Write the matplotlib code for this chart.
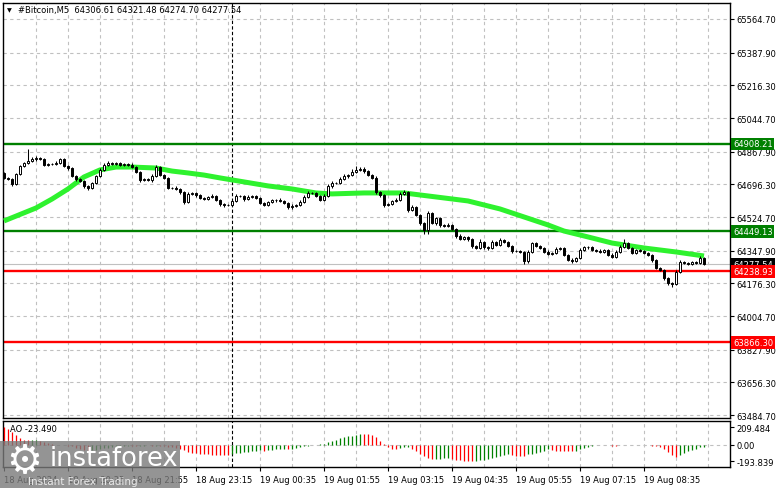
import numpy as np
import matplotlib.pyplot as plt
from matplotlib.patches import Rectangle

W, H = 781, 489

# BTC M5 bars, 18 Aug 2024 19:15 -> 19 Aug 09:50
closes = [
    64730, 64724, 64698, 64750, 64793, 64808, 64819, 64829, 64835, 64829,
    64798, 64803, 64803, 64808, 64829, 64793, 64782, 64740, 64724, 64714,
    64687, 64677, 64703, 64740, 64772, 64798, 64808, 64803, 64808, 64798,
    64803, 64798, 64787, 64761, 64719, 64724, 64719, 64740, 64787, 64745,
    64730, 64677, 64677, 64672, 64656, 64604, 64646, 64651, 64640, 64625,
    64619, 64630, 64635, 64614, 64593, 64588, 64588, 64609, 64635, 64635,
    64619, 64630, 64635, 64625, 64598, 64588, 64604, 64614, 64614, 64609,
    64598, 64577, 64583, 64588, 64604, 64630, 64651, 64651, 64635, 64614,
    64635, 64687, 64703, 64703, 64724, 64740, 64745, 64761, 64772, 64777,
    64766, 64745, 64730, 64656, 64640, 64588, 64593, 64609, 64614, 64646,
    64656, 64561, 64577, 64535, 64493, 64456, 64546, 64493, 64519, 64483,
    64477, 64483, 64462, 64425, 64409, 64420, 64409, 64372, 64362, 64393,
    64367, 64362, 64393, 64378, 64404, 64393, 64372, 64346, 64346, 64341,
    64294, 64341, 64388, 64372, 64362, 64341, 64330, 64336, 64357, 64362,
    64325, 64299, 64294, 64309, 64351, 64367, 64367, 64351, 64346, 64341,
    64351, 64325, 64315, 64341, 64367, 64388, 64362, 64336, 64351, 64346,
    64336, 64325, 64299, 64257, 64246, 64204, 64178, 64173, 64236, 64288,
    64283, 64278, 64288, 64283, 64309, 64277.54,
]
# each M5 bar opens at the previous close
opens = [64756] + closes[:-1]

upper_wick = [
    6, 5, 8, 6, 5, 8, 63, 10, 8, 6,
    8, 6, 5, 10, 6, 8, 5, 6, 5, 8,
    5, 6, 5, 6, 8, 10, 12, 6, 8, 5,
    6, 5, 8, 5, 6, 8, 5, 10, 11, 6,
    5, 6, 5, 8, 5, 6, 8, 5, 6, 8,
    5, 6, 8, 5, 6, 5, 6, 8, 10, 6,
    5, 8, 6, 5, 6, 8, 5, 6, 5, 8,
    6, 5, 8, 6, 8, 10, 8, 6, 5, 6,
    8, 12, 10, 8, 12, 10, 8, 15, 18, 10,
    8, 6, 5, 10, 6, 8, 6, 5, 8, 10,
    8, 6, 10, 6, 8, 5, 10, 6, 8, 5,
    6, 8, 5, 6, 8, 5, 6, 8, 6, 16,
    8, 6, 10, 6, 8, 6, 5, 8, 6, 5,
    6, 10, 8, 6, 5, 6, 8, 6, 10, 6,
    5, 6, 8, 6, 10, 8, 6, 5, 6, 8,
    6, 5, 8, 10, 12, 21, 6, 5, 8, 6,
    5, 6, 5, 6, 5, 6, 5, 6, 8, 10,
    8, 6, 8, 6, 12, 8,
]
lower_wick = [
    6, 5, 10, 6, 5, 6, 5, 6, 8, 5,
    6, 8, 5, 6, 5, 6, 8, 6, 10, 8,
    10, 8, 6, 5, 6, 8, 5, 6, 5, 6,
    8, 6, 5, 6, 8, 5, 6, 8, 5, 6,
    8, 6, 5, 6, 8, 12, 6, 5, 8, 6,
    5, 6, 8, 5, 8, 10, 8, 6, 5, 6,
    8, 5, 6, 8, 6, 8, 5, 6, 8, 5,
    6, 10, 8, 6, 5, 6, 5, 8, 6, 5,
    6, 5, 8, 6, 5, 6, 8, 5, 6, 5,
    8, 6, 5, 10, 8, 12, 8, 6, 5, 6,
    5, 8, 6, 5, 8, 21, 21, 6, 8, 10,
    6, 5, 8, 10, 6, 5, 8, 10, 8, 6,
    8, 10, 6, 5, 8, 6, 5, 8, 6, 8,
    16, 12, 6, 5, 6, 8, 6, 5, 6, 8,
    6, 8, 10, 6, 5, 6, 8, 5, 6, 8,
    5, 6, 8, 6, 5, 6, 8, 6, 5, 6,
    8, 6, 10, 8, 6, 8, 10, 16, 6, 5,
    6, 8, 5, 6, 5, 6,
]

# Awesome Oscillator, one value per bar
ao_values = [
    209.484, 185, 150, 115, 85, 60, 55, 58, 62, 50,
    35, 20, 8, 2, -5, -3, -10, -20, -35, -50,
    -62, -70, -65, -58, -50, -42, -35, -30, -24, -18,
    -14, -10, -12, -15, -13, -10, -8, -12, -10, -14,
    -20, -25, -30, -38, -50, -65, -80, -92, -100, -106,
    -110, -113, -115, -117, -118, -119, -120, -112, -100, -92,
    -85, -80, -75, -70, -66, -68, -62, -58, -55, -52,
    -50, -52, -45, -38, -30, -20, -12, -5, 3, 8,
    15, 30, 45, 60, 75, 90, 100, 110, 118, 128,
    126, 124, 116, 88, 48, 12, -30, -50, -55, -38,
    -28, -25, -50, -75, -112, -134, -154, -174, -170, -165,
    -160, -157, -166, -176, -184, -189, -192, -193.839, -189, -183,
    -175, -164, -152, -140, -132, -120, -112, -118, -128, -133,
    -135, -114, -104, -95, -85, -72, -55, -62, -70, -72,
    -74, -76, -78, -68, -55, -40, -25, -15, -8, -5,
    -3, -8, -12, -14, -8, -4, -3, -2, -5, -3,
    -4, -8, -12, -18, -30, -55, -85, -115, -140, -125,
    -100, -75, -60, -45, -30, -23.490,
]

# moving average (green line), sampled along the bars
ma_bars = [0, 8, 12, 16, 20, 24, 28, 32, 38, 42, 46, 50, 54, 60, 66, 72, 78, 82,
           90, 100, 108, 116, 124, 130, 136, 140, 146, 152, 160, 168, 175]
ma_prices = [64504, 64572, 64619, 64672, 64735, 64772, 64787, 64787, 64782, 64766,
             64756, 64745, 64730, 64709, 64688, 64672, 64651, 64646, 64651, 64651,
             64630, 64609, 64567, 64525, 64483, 64451, 64420, 64388, 64362, 64341, 64320]

price_ticks = [65564.70, 65387.90, 65216.30, 65044.70, 64867.90, 64696.30, 64524.70,
               64347.90, 64176.30, 64004.70, 63827.90, 63656.30, 63484.70]
ao_ticks = [209.484, 0.00, -193.839]
ao_tick_labels = ['209.484', '0.00', '-193.839']
time_labels = ['18 Aug 2024', '18 Aug 20:35', '18 Aug 21:55', '18 Aug 23:15',
               '19 Aug 00:35', '19 Aug 01:55', '19 Aug 03:15', '19 Aug 04:35',
               '19 Aug 05:55', '19 Aug 07:15', '19 Aug 08:35']
level_prices = [64908.21, 64449.13, 64238.93, 63866.30]
level_colors = ['#008000', '#008000', '#ff0000', '#ff0000']
last_price = 64277.54
header = '#Bitcoin,M5  64306.61 64321.48 64274.70 64277.54'
ao_header = 'AO -23.490'
day_separator_bar = 57  # 19 Aug 00:00

plt.rcParams['font.family'] = 'DejaVu Sans'
plt.rcParams['font.size'] = 6

fig = plt.figure(figsize=(W / 100, H / 100), dpi=100)
fig.patch.set_facecolor('white')


def px_axes(x0, y0, x1, y1):
    return fig.add_axes([x0 / W, 1 - y1 / H, (x1 - x0) / W, (y1 - y0) / H])


ax = px_axes(3, 4, 730, 419)
ax_ao = px_axes(3, 422, 730, 468)

n = len(closes)
bars = np.arange(n)
xlim = (-0.25, 181.5)
grid_kw = dict(color='#c0c0c0', lw=0.8, linestyle=(0, (3, 3)), zorder=0)

for a in (ax, ax_ao):
    a.set_xlim(*xlim)
    for s in a.spines.values():
        s.set_color('black')
        s.set_linewidth(1.0)
    for b in range(8, 184, 8):
        a.axvline(b, **grid_kw)
    a.axvline(day_separator_bar, color='black', lw=0.8, linestyle=(0, (3, 2)), zorder=1)
    a.yaxis.tick_right()
    a.tick_params(axis='y', direction='out', length=3, width=0.8, pad=1.5, labelsize=6)

# ---- main price panel ----
ax.set_ylim(63468.95, 65648.74)
ax.set_xticks([])
ax.set_yticks(price_ticks)
ax.set_yticklabels([f'{p:.2f}' for p in price_ticks])
for p in price_ticks:
    ax.axhline(p, **grid_kw)

ax.axhline(last_price, color='#c0c0c0', lw=0.8, zorder=1)
for p, c in zip(level_prices, level_colors):
    ax.axhline(p, color=c, lw=1.7, zorder=2)

ax.plot(ma_bars, ma_prices, color='#2ef22e', lw=3.6, solid_capstyle='butt', zorder=3)

o = np.array(opens, dtype=float)
c = np.array(closes, dtype=float)
hi = np.maximum(o, c) + np.array(upper_wick)
lo = np.minimum(o, c) - np.array(lower_wick)
ax.vlines(bars, lo, hi, color='black', lw=0.75, zorder=4)
up = c >= o
ax.bar(bars[up], (c - o)[up], bottom=o[up], width=0.72, facecolor='white',
       edgecolor='black', lw=0.7, zorder=5)
ax.bar(bars[~up], (o - c)[~up], bottom=c[~up], width=0.72, facecolor='black',
       edgecolor='black', lw=0.7, zorder=5)

# price tags on the right scale
tag_x = (733 - 3) / 727
tr = ax.get_yaxis_transform()
box = dict(boxstyle='square,pad=0.22', lw=0)
ax.text(tag_x, last_price, f'{last_price:.2f}', transform=tr, color='white', fontsize=6,
        va='center', ha='left', clip_on=False, zorder=6, bbox=dict(box, fc='black'))
for p, col in zip(level_prices, level_colors):
    ax.text(tag_x, p, f'{p:.2f}', transform=tr, color='white', fontsize=6,
            va='center', ha='left', clip_on=False, zorder=7, bbox=dict(box, fc=col))

# ---- AO panel ----
ax_ao.set_ylim(-263, 282)
ax_ao.set_yticks(ao_ticks)
ax_ao.set_yticklabels(ao_tick_labels)
ax_ao.axhline(0, **grid_kw)
ao = np.array(ao_values, dtype=float)
ao_colors = ['#ff0000'] + ['#008000' if ao[i] > ao[i - 1] else '#ff0000' for i in range(1, n)]
ax_ao.vlines(bars, 0, ao, colors=ao_colors, lw=0.9, zorder=3)
ax_ao.set_xticks(np.arange(0, 161, 16))
ax_ao.set_xticklabels(time_labels, ha='left')
ax_ao.tick_params(axis='x', direction='out', length=3, width=0.8, pad=2.5, labelsize=6)
ax_ao.text(7 / 727, 0.83, ao_header, transform=ax_ao.transAxes, fontsize=6, va='center')

# ---- header ----
fig.text(7 / W, 1 - 10.5 / H, '▼', fontsize=4.5, va='center')
fig.text(18 / W, 1 - 10.5 / H, header, fontsize=6, va='center')

# ---- watermark ----
fig.add_artist(Rectangle((0, 0), 180 / W, 47 / H, transform=fig.transFigure,
                         facecolor='#7a7a7a', alpha=0.8, lw=0, zorder=10))
fig.text(6 / W, 1 - 462 / H, '⚙', fontsize=29, color='white', va='center', zorder=11)
fig.text(50 / W, 1 - 459 / H, 'instaforex', fontsize=18.5, color='white', va='center', zorder=11)
fig.text(28 / W, 1 - 482 / H, 'Instant Forex Trading', fontsize=7.5, color='#e8e8e8',
         va='center', zorder=11)

fig.savefig('out.png', dpi=100)
